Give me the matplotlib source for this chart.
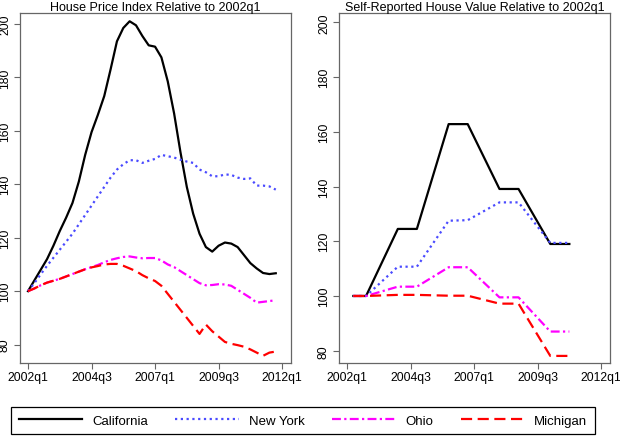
import numpy as np
import matplotlib
matplotlib.use('Agg')
from matplotlib import pyplot as plt

plt.rcParams['font.family'] = ['Liberation Sans', 'DejaVu Sans']

# quarters since 2002q1
quarters = np.arange(40)
tick_pos = [0, 10, 20, 30, 40]
tick_labels = ['2002q1', '2004q3', '2007q1', '2009q3', '2012q1']
y_ticks = [80, 100, 120, 140, 160, 180, 200]

# house price index, relative to 2002q1
hpi_ca = [100, 104, 108, 112, 117, 122.5, 127.5, 133, 141, 151,
          159.5, 166, 173, 183, 193.5, 198.5, 201, 199.5, 195.5, 192,
          191.5, 187.5, 178.5, 166.5, 152, 139, 129, 121.5, 116.5, 114.8,
          117, 118.2, 117.8, 116.5, 113.5, 110.5, 108.5, 106.8, 106.4, 106.7]
hpi_ny = [100, 103, 106.3, 109.5, 112.5, 115.5, 118.5, 121.5, 125, 128.5,
          132, 135.5, 139, 142.5, 145.5, 147.5, 149, 149, 148, 148.8,
          149.5, 151, 150.5, 150, 149.2, 148.5, 148, 145.5, 144.5, 143,
          143, 143.7, 143.5, 142.5, 142, 142.2, 139.5, 139.5, 139.2, 138]
hpi_oh = [100, 101, 102.2, 103.2, 103.9, 104.6, 105.5, 106.4, 107.3, 108.2,
          109, 109.8, 110.8, 111.7, 112.3, 112.8, 113, 112.6, 112.3, 112.4,
          112.4, 111.5, 110, 109, 107.5, 106, 104.5, 103, 102.2, 102.3,
          102.6, 102.5, 102, 100.5, 99, 97.5, 95.7, 96, 96.3, 96.6]
hpi_mi = [100, 101, 102.2, 103.2, 103.9, 104.6, 105.5, 106.4, 107.3, 108.2,
          108.9, 109.4, 110, 110.2, 110.2, 109.5, 108.5, 107.5, 106, 104.8,
          103.8, 102, 99, 96, 93, 90, 87, 84, 87.5, 85,
          83, 81, 80.3, 79.8, 79.2, 78.2, 77, 75.8, 77, 77.4]

# self-reported house value, relative to 2002q1
sr_quarters = [1, 3, 8, 11, 16, 19, 24, 27, 32, 35]
sr_ca = [100, 100, 124.5, 124.5, 162.8, 162.8, 139.1, 139.1, 119.0, 119.0]
sr_ny = [100, 100, 110.7, 110.7, 127.5, 127.7, 134.2, 134.2, 119.4, 119.4]
sr_oh = [100, 100, 103.4, 103.4, 110.5, 110.5, 99.5, 99.5, 87.0, 87.0]
sr_mi = [100, 100, 100.4, 100.4, 100.1, 100.1, 97.2, 97.2, 78.1, 78.1]

states = ['California', 'New York', 'Ohio', 'Michigan']
styles = [dict(color='black', ls='-', lw=1.6),
          dict(color='#4a4aff', ls=(0, (1, 1.6)), lw=1.6),
          dict(color='#ff00ff', ls=(0, (4, 1.5, 1, 1.5)), lw=1.6),
          dict(color='red', ls=(0, (5, 2.5)), lw=1.6)]

fig = plt.figure(figsize=(6.2, 4.39), dpi=100)
ax1 = fig.add_axes([20/620, 1-364.3/439, 271/620, 350.3/439])
ax2 = fig.add_axes([339/620, 1-364.3/439, 271/620, 350.3/439])

lines = []
for y, st in zip([hpi_ca, hpi_ny, hpi_oh, hpi_mi], styles):
    l, = ax1.plot(quarters, y, **st)
    lines.append(l)
for y, st in zip([sr_ca, sr_ny, sr_oh, sr_mi], styles):
    ax2.plot(sr_quarters, y, **st)

titles = ['House Price Index Relative to 2002q1',
          'Self-Reported House Value Relative to 2002q1']
for ax, t, ylim in zip([ax1, ax2], titles, [(73.0, 204.1), (75.4, 203.4)]):
    ax.set_xlim(-1.26, 41.4)
    ax.set_ylim(*ylim)
    ax.set_xticks(tick_pos)
    ax.set_xticklabels(tick_labels, fontsize=8.7)
    ax.set_yticks(y_ticks)
    ax.set_yticklabels([str(v) for v in y_ticks], fontsize=8.7,
                       rotation=90, va='center')
    ax.tick_params(color='#666666', length=4, width=0.8, pad=1.5)
    ax.tick_params(axis='y', pad=2.5)
    for s in ax.spines.values():
        s.set_color('#666666')
        s.set_linewidth(0.9)
    ax.set_title(t, fontsize=9, pad=2.5)

leg = fig.legend(lines, states, loc='center', ncol=4,
                 bbox_to_anchor=(303/620, 1-421.5/439),
                 fontsize=9.5, handlelength=4.8, handletextpad=0.75,
                 columnspacing=2.1, fancybox=False, framealpha=1,
                 edgecolor='black', borderpad=0.55)
leg.get_frame().set_linewidth(0.9)

fig.savefig('out.png', dpi=100)
